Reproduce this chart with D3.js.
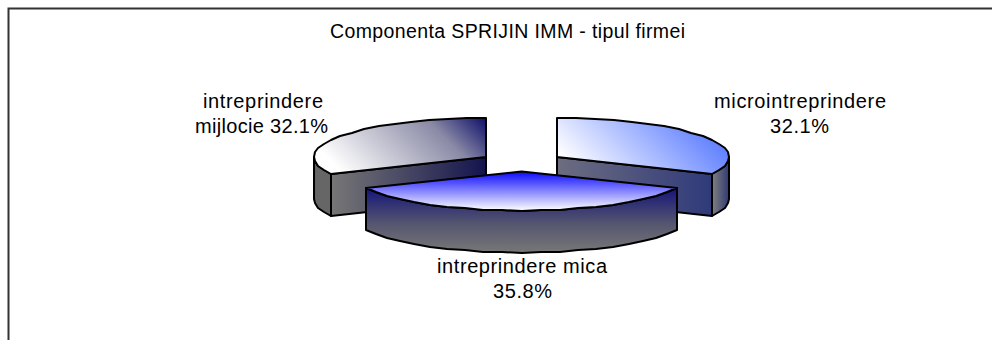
<!DOCTYPE html>
<html><head><meta charset="utf-8">
<script src="https://cdn.jsdelivr.net/npm/d3@7"></script>
<style>html,body{margin:0;padding:0;background:#fff}svg{display:block}text{font-family:"Liberation Sans",Arial,sans-serif;fill:#000}</style>
</head><body><svg id="c" width="992" height="340"></svg>
<script>
const chartTitle = "Componenta SPRIJIN IMM - tipul firmei";
const categories = ["microintreprindere", "intreprindere mica", "intreprindere mijlocie"];
const shares = [32.1, 35.8, 32.1];
const labelLines = [["microintreprindere","32.1%"],["intreprindere mica","35.8%"],["intreprindere","mijlocie 32.1%"]];
// layout of the label lines: centre x, baseline y, fitted width
const labelLayout = [
  [[800,108,172],[799.5,133,59]],
  [[522,273,170],[522.5,298,59]],
  [[263,108,120],[261.5,133,133]]
];

const svg = d3.select("#c");
const defs = svg.append("defs");
svg.append("path").attr("d","M8.5,340V8.5H992").attr("fill","none").attr("stroke","#333").attr("stroke-width",2);
svg.append("text").attr("x",507.5).attr("y",38).attr("text-anchor","middle").attr("font-size",19.5)
  .attr("textLength",355).attr("lengthAdjust","spacing").text(chartTitle);

const cx=521.5, cy=162, rx=172, ry=39, depth=42, explode=0.244;
const pie=d3.pie().sort(null).value(d=>d);
const arcs=pie(shares);
const lineGen=d3.line();
function grad(id,x1,y1,x2,y2,stops){
  const g=defs.append("linearGradient").attr("id",id).attr("gradientUnits","userSpaceOnUse")
    .attr("x1",x1).attr("y1",y1).attr("x2",x2).attr("y2",y2);
  stops.forEach(s=>g.append("stop").attr("offset",s[0]).attr("stop-color",s[1]));
  return `url(#${id})`;
}
function rim(a,ox,oy){
  const n=Math.max(6,Math.round((a.endAngle-a.startAngle)/0.11));
  return d3.range(n+1).map(i=>{
    const t=a.startAngle+(a.endAngle-a.startAngle)*i/n;
    return [Math.round(ox+rx*Math.sin(t)),Math.round(oy-ry*Math.cos(t))];
  });
}
const layers=arcs.map((a,i)=>{
  const mid=(a.startAngle+a.endAngle)/2;
  const ox=cx+explode*rx*Math.sin(mid), oy=cy-explode*ry*Math.cos(mid);
  return {a,i,ox,oy,pts:rim(a,ox,oy)};
});
function draw(d,fill,sel){
  sel.append("path").attr("d",lineGen(d)+"Z").attr("fill",fill)
    .attr("stroke","#000").attr("stroke-width",2).attr("stroke-linejoin","round");
}
[2,0,1].forEach(i=>{
  const L=layers[i], ap=[L.ox,L.oy], g=svg.append("g");
  const first=L.pts[0], last=L.pts[L.pts.length-1];
  const down=p=>[p[0],p[1]+depth];
  if(i===1){
    const side=[...L.pts,...L.pts.slice().reverse().map(down)];
    draw(side,grad("side1",0,L.oy+17,0,L.oy+39+depth,[[0,"#15157a"],[0.55,"#55566f"],[1,"#777777"]]),g);
    draw([ap,...L.pts],grad("top1",0,L.oy,0,L.oy+39,[[0,"#0a0aff"],[1,"#ffffff"]]),g);
  } else if(i===0){
    const kmax=d3.maxIndex(L.pts,p=>p[0]);
    const outer=L.pts.slice(kmax);
    draw([...outer,...outer.slice().reverse().map(down)],
      grad("out0",last[0],0,L.pts[kmax][0],0,[[0,"#808080"],[1,"#2f3a72"]]),g);
    draw([ap,last,down(last),down(ap)],grad("in0",ap[0],0,last[0],0,[[0,"#6d6d80"],[1,"#2f3a7a"]]),g);
    draw([ap,...L.pts],grad("top0",ap[0]+8,ap[1]+3,ap[0]+100,ap[1]-89,[[0,"#ffffff"],[1,"#5577ff"]]),g);
  } else {
    const k=d3.minIndex(L.pts,p=>p[0]);
    const outer=L.pts.slice(0,k+1);
    draw([...outer,...outer.slice().reverse().map(down)],
      grad("out2",L.pts[k][0],0,first[0],0,[[0,"#444444"],[0.1,"#666666"],[1,"#666666"]]),g);
    draw([ap,first,down(first),down(ap)],grad("in2",first[0],0,ap[0],0,[[0,"#777777"],[1,"#14144e"]]),g);
    draw([ap,...L.pts],grad("top2",ap[0]-146,ap[1]+13,ap[0]-48,ap[1]-85,[[0,"#ffffff"],[0.7,"#8a8aa6"],[1,"#12126c"]]),g);
  }
});

labelLines.forEach((ls,i)=>ls.forEach((s,j)=>{
  const [x,y,w]=labelLayout[i][j];
  svg.append("text").attr("text-anchor","middle").attr("font-size",20)
    .attr("x",x).attr("y",y).attr("textLength",w).attr("lengthAdjust","spacing").text(s);
}));
</script></body></html>
